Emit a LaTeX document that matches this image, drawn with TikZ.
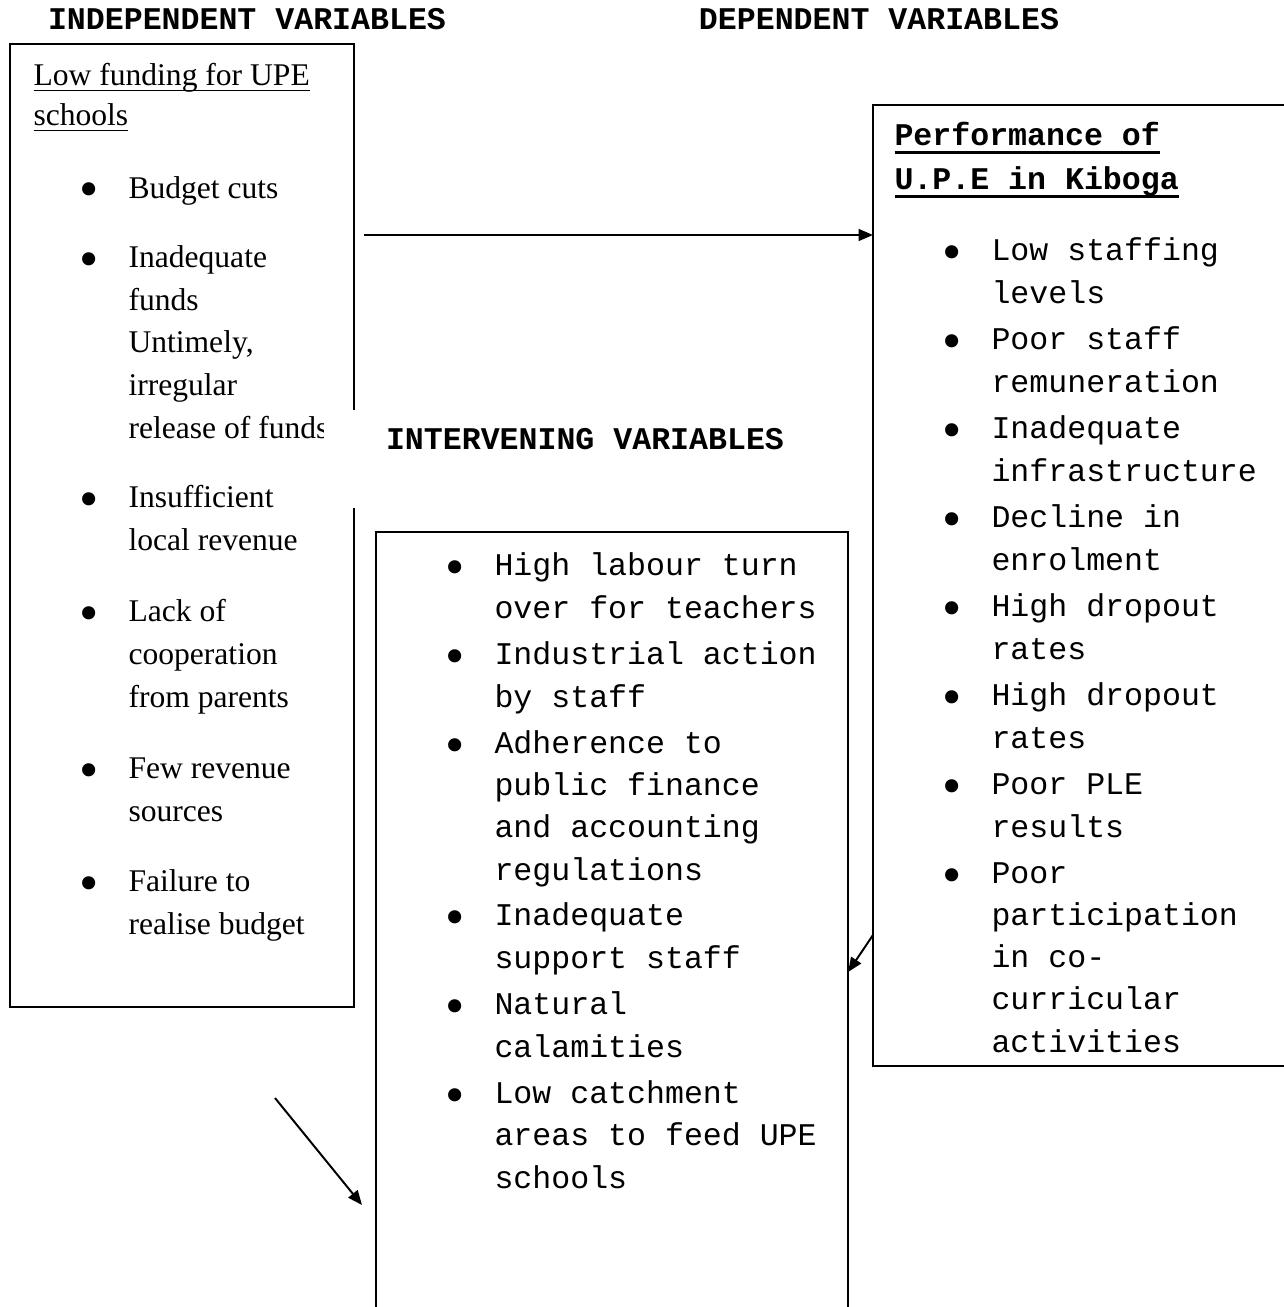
\documentclass[tikz,border=0pt]{standalone}
\usepackage{fontspec}
\setmainfont{Liberation Serif}
\setmonofont{Liberation Mono}
\usetikzlibrary{arrows.meta, positioning}
\newcommand{\bul}{\llap{\raisebox{-3.7pt}{\fontsize{20.9}{20}\selectfont\rmfamily\textbullet}\hspace{11.5pt}}}
\newcommand{\uline}[3]{\setbox0=\hbox{#3}\rlap{\rule[-#2]{\wd0}{#1}}\box0}

\begin{document}
\begin{tikzpicture}[
    x=0.38pt, y=-0.38pt,
    box/.style  ={draw, line width=0.75pt, anchor=north west,
                  inner sep=0pt, outer sep=0pt},
    hdr/.style  ={anchor=base, inner sep=0pt,
                  font=\ttfamily\bfseries\fontsize{12}{14}\selectfont},
    rmitem/.style={anchor=base west, align=left, inner sep=0pt,
                  font=\fontsize{12}{16.2}\selectfont},
    ttitem/.style={anchor=base west, align=left, inner sep=0pt,
                  font=\ttfamily\fontsize{12}{16}\selectfont},
    flow/.style ={-{Triangle[length=5.5pt,width=4.5pt]}, line width=0.75pt},
]
\useasboundingbox (0,0) rectangle (1284,1307);
\clip (0,0) rectangle (1284,1307);

% headers
\node[hdr] (h-ind) at (247,30) {INDEPENDENT VARIABLES};
\node[hdr] (h-dep) at (879,30) {DEPENDENT VARIABLES};

% independent variables (node base = last line)
\node[box, minimum width=130.7pt, minimum height=365.9pt] (indep) at (10,44) {};
\node[rmitem, font=\fontsize{12}{15.2}\selectfont] (ind-t) at (33,126)
     {\uline{0.5pt}{2pt}{Low funding for UPE}\\\uline{0.5pt}{2pt}{schools}};
\node[rmitem] (ind-1) at (128,198)   {\bul Budget cuts};
\node[rmitem] (ind-2) at (128,438)   {\bul Inadequate\\funds\\Untimely,\\irregular\\release of funds};
\node[rmitem] (ind-3) at (128,550.5) {\bul Insufficient\\local revenue};
\node[rmitem] (ind-4) at (128,707)   {\bul Lack of\\cooperation\\from parents};
\node[rmitem] (ind-5) at (128,821.5) {\bul Few revenue\\sources};
\node[rmitem] (ind-6) at (128,934.5) {\bul Failure to\\realise budget};

% intervening label sits over the box edge
\fill[white] (324,410) rectangle (800,508);
\node[hdr] (h-int) at (585,449) {INTERVENING VARIABLES};

% dependent variables
\node[box, minimum width=167.2pt, minimum height=365.2pt] (dep) at (873,105) {};
\node[ttitem, font=\ttfamily\bfseries\fontsize{12}{16.7}\selectfont] (dep-t) at (894,189)
     {\uline{1.1pt}{3.5pt}{Performance of}\\\uline{1.1pt}{3.5pt}{U.P.E in Kiboga}};
\node[ttitem] (dep-1) at (991,303)  {\bul Low staffing\\levels};
\node[ttitem] (dep-2) at (991,392)  {\bul Poor staff\\remuneration};
\node[ttitem] (dep-3) at (991,481)  {\bul Inadequate\\infrastructure};
\node[ttitem] (dep-4) at (991,570)  {\bul Decline in\\enrolment};
\node[ttitem] (dep-5) at (991,659)  {\bul High dropout\\rates};
\node[ttitem] (dep-6) at (991,748)  {\bul High dropout\\rates};
\node[ttitem] (dep-7) at (991,837)  {\bul Poor PLE\\results};
\node[ttitem] (dep-8) at (991,1052) {\bul Poor\\participation\\in co-\\curricular\\activities};

% intervening variables
\node[box, minimum width=179.4pt, minimum height=300pt] (interv) at (376,532) {};
\node[ttitem] (int-1) at (494,618)  {\bul High labour turn\\over for teachers};
\node[ttitem] (int-2) at (494,707)  {\bul Industrial action\\by staff};
\node[ttitem] (int-3) at (494,880)  {\bul Adherence to\\public finance\\and accounting\\regulations};
\node[ttitem] (int-4) at (494,968)  {\bul Inadequate\\support staff};
\node[ttitem] (int-5) at (494,1057) {\bul Natural\\calamities};
\node[ttitem] (int-6) at (494,1188) {\bul Low catchment\\areas to feed UPE\\schools};

% arrows
\coordinate (a1) at (364,235);
\coordinate (a3) at (275,1098);
\coordinate (a3e) at (362,1205);
\draw[flow] (a1) -- (dep.west |- a1);
\draw[flow] (dep.west |- 0,935) -- (interv.east |- 0,972);
\draw[flow] (a3) -- (a3e);
\end{tikzpicture}
\end{document}
